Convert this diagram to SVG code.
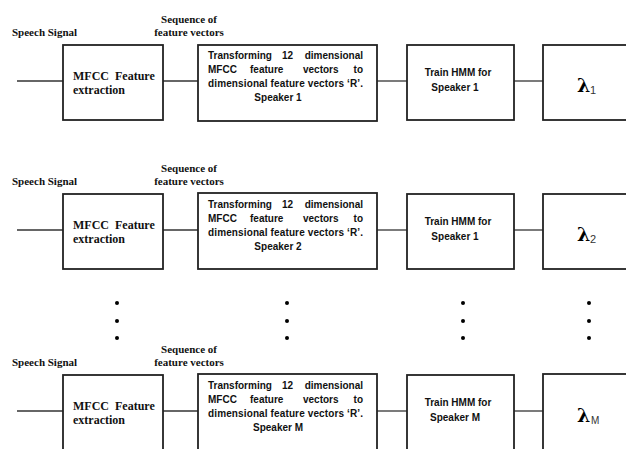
<svg xmlns="http://www.w3.org/2000/svg" width="626" height="449" viewBox="0 0 626 449">
<style>
.box{fill:#fff;stroke:#222;stroke-width:1.8}
.con{stroke:#333;stroke-width:1.3;fill:none}
.lbl{font-family:"Liberation Serif","Times New Roman",serif;font-weight:bold;font-size:11px;fill:#111}
.mf{font-family:"Liberation Serif","Times New Roman",serif;font-weight:bold;font-size:12px;fill:#111}
.sn{font-family:"Liberation Sans",Arial,sans-serif;font-weight:bold;font-size:10px;fill:#111}
.lam{font-family:"DejaVu Serif","Liberation Serif",serif;font-weight:bold;font-size:19px;fill:#000}
.sub{font-family:"Liberation Sans",Arial,sans-serif;font-size:11px;fill:#333}
.mid{text-anchor:middle}
.end{text-anchor:end}
.dot{fill:#000}
</style>

<g id="connectors">
<line class="con" x1="17" y1="81" x2="63" y2="81"/>
<line class="con" x1="163" y1="81" x2="198" y2="81"/>
<line class="con" x1="377" y1="81" x2="407" y2="81"/>
<line class="con" x1="514" y1="81" x2="543" y2="81"/>
<line class="con" x1="17" y1="230" x2="63" y2="230"/>
<line class="con" x1="163" y1="230" x2="198" y2="230"/>
<line class="con" x1="377" y1="230" x2="407" y2="230"/>
<line class="con" x1="514" y1="230" x2="543" y2="230"/>
<line class="con" x1="17" y1="411" x2="63" y2="411"/>
<line class="con" x1="163" y1="411" x2="198" y2="411"/>
<line class="con" x1="377" y1="411" x2="407" y2="411"/>
<line class="con" x1="514" y1="411" x2="543" y2="411"/>
</g>

<!-- Row 1 -->
<g id="labels1">
<text class="lbl" x="12" y="36">Speech Signal</text>
<text class="lbl mid" x="189" y="23">Sequence of</text>
<text class="lbl mid" x="189" y="36">feature vectors</text>
</g>
<g id="mfcc1">
<rect class="box" x="63" y="45" width="100" height="75"/>
<text class="mf" x="73" y="80" word-spacing="3">MFCC Feature</text>
<text class="mf" x="73" y="94">extraction</text>
</g>
<g id="transform1">
<rect class="box" x="198" y="45" width="179" height="76"/>
<text class="sn" x="208" y="59">Transforming</text>
<text class="sn" x="282" y="59">12</text>
<text class="sn end" x="363" y="59">dimensional</text>
<text class="sn" x="208" y="73">MFCC</text>
<text class="sn" x="250" y="73">feature</text>
<text class="sn" x="303" y="73">vectors</text>
<text class="sn end" x="363" y="73">to</text>
<text class="sn" x="208" y="87" textLength="155" lengthAdjust="spacing">dimensional feature vectors ‘R’.</text>
<text class="sn mid" x="278" y="101">Speaker 1</text>
</g>
<g id="hmm1">
<rect class="box" x="407" y="45" width="107" height="75"/>
<text class="sn mid" x="458" y="76">Train HMM for</text>
<text class="sn mid" x="455" y="91">Speaker 1</text>
</g>
<g id="lambda1">
<rect class="box" x="543" y="45" width="100" height="75"/>
<text class="lam" x="577" y="92">λ</text>
<text class="sub" x="590" y="94">1</text>
</g>

<!-- Row 2 -->
<g id="labels2">
<text class="lbl" x="12" y="185">Speech Signal</text>
<text class="lbl mid" x="189" y="172">Sequence of</text>
<text class="lbl mid" x="189" y="185">feature vectors</text>
</g>
<g id="mfcc2">
<rect class="box" x="63" y="194" width="100" height="75"/>
<text class="mf" x="73" y="229" word-spacing="3">MFCC Feature</text>
<text class="mf" x="73" y="243">extraction</text>
</g>
<g id="transform2">
<rect class="box" x="198" y="193" width="179" height="76"/>
<text class="sn" x="208" y="208">Transforming</text>
<text class="sn" x="282" y="208">12</text>
<text class="sn end" x="363" y="208">dimensional</text>
<text class="sn" x="208" y="222">MFCC</text>
<text class="sn" x="250" y="222">feature</text>
<text class="sn" x="303" y="222">vectors</text>
<text class="sn end" x="363" y="222">to</text>
<text class="sn" x="208" y="236" textLength="155" lengthAdjust="spacing">dimensional feature vectors ‘R’.</text>
<text class="sn mid" x="278" y="250">Speaker 2</text>
</g>
<g id="hmm2">
<rect class="box" x="407" y="194" width="107" height="75"/>
<text class="sn mid" x="458" y="225">Train HMM for</text>
<text class="sn mid" x="455" y="240">Speaker 1</text>
</g>
<g id="lambda2">
<rect class="box" x="543" y="194" width="100" height="75"/>
<text class="lam" x="577" y="241">λ</text>
<text class="sub" x="590" y="243">2</text>
</g>

<!-- Ellipsis dots -->
<g id="dots">
<circle class="dot" cx="117" cy="303" r="2"/><circle class="dot" cx="117" cy="321" r="2"/><circle class="dot" cx="117" cy="338" r="2"/>
<circle class="dot" cx="287" cy="303" r="2"/><circle class="dot" cx="287" cy="321" r="2"/><circle class="dot" cx="287" cy="338" r="2"/>
<circle class="dot" cx="463" cy="303" r="2"/><circle class="dot" cx="463" cy="321" r="2"/><circle class="dot" cx="463" cy="338" r="2"/>
<circle class="dot" cx="589" cy="303" r="2"/><circle class="dot" cx="589" cy="321" r="2"/><circle class="dot" cx="589" cy="338" r="2"/>
</g>

<!-- Row 3 -->
<g id="labels3">
<text class="lbl" x="12" y="366">Speech Signal</text>
<text class="lbl mid" x="189" y="353">Sequence of</text>
<text class="lbl mid" x="189" y="366">feature vectors</text>
</g>
<g id="mfccM">
<rect class="box" x="63" y="375" width="100" height="80"/>
<text class="mf" x="73" y="410" word-spacing="3">MFCC Feature</text>
<text class="mf" x="73" y="424">extraction</text>
</g>
<g id="transformM">
<rect class="box" x="198" y="374" width="179" height="80"/>
<text class="sn" x="208" y="389">Transforming</text>
<text class="sn" x="282" y="389">12</text>
<text class="sn end" x="363" y="389">dimensional</text>
<text class="sn" x="208" y="403">MFCC</text>
<text class="sn" x="250" y="403">feature</text>
<text class="sn" x="303" y="403">vectors</text>
<text class="sn end" x="363" y="403">to</text>
<text class="sn" x="208" y="417" textLength="155" lengthAdjust="spacing">dimensional feature vectors ‘R’.</text>
<text class="sn mid" x="278" y="431">Speaker M</text>
</g>
<g id="hmmM">
<rect class="box" x="407" y="375" width="107" height="80"/>
<text class="sn mid" x="458" y="406">Train HMM for</text>
<text class="sn mid" x="455" y="421">Speaker M</text>
</g>
<g id="lambdaM">
<rect class="box" x="543" y="374" width="100" height="80"/>
<text class="lam" x="577" y="422">λ</text>
<text class="sub" x="591" y="424" style="font-size:10px">M</text>
</g>
</svg>
